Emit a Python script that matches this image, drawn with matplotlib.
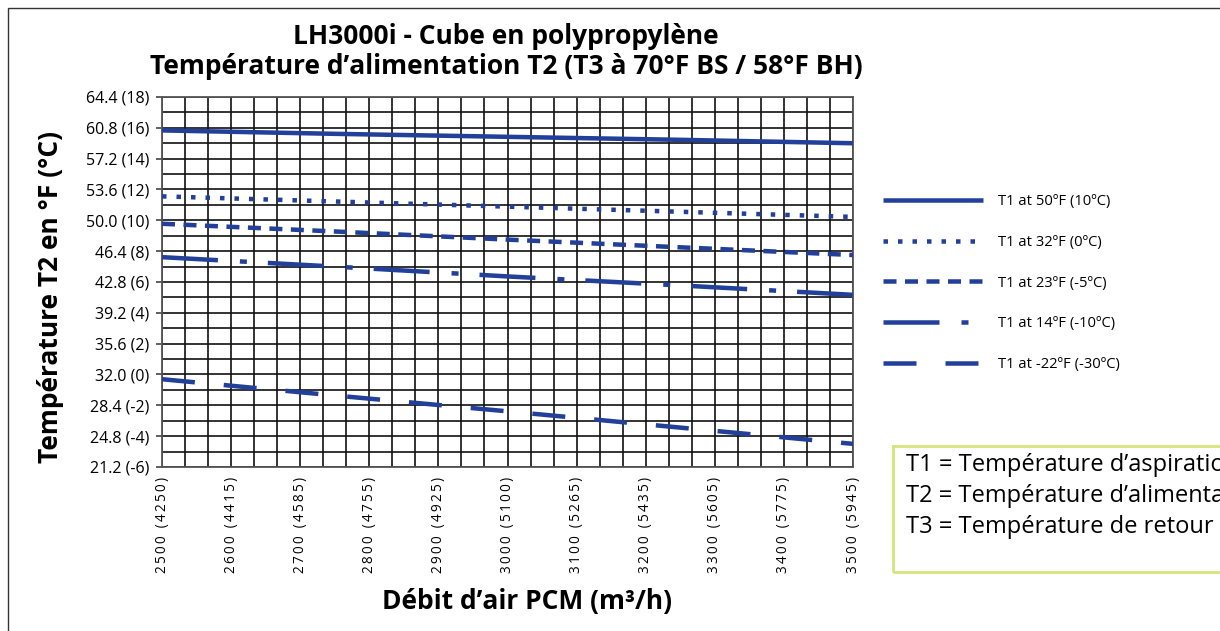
import matplotlib
matplotlib.use("Agg")
import matplotlib.pyplot as plt
from matplotlib.patches import Rectangle
import numpy as np

plt.rcParams['font.family'] = ['Open Sans', 'DejaVu Sans']

# ---- data ----
cfm = [2500, 2750, 3000, 3250, 3500]
t1_50F = [60.5, 60.1, 59.75, 59.4, 59.0]
t1_32F = [52.8, 52.2, 51.6, 51.0, 50.4]
t1_23F = [49.6, 48.7, 47.75, 46.85, 45.95]
t1_14F = [45.7, 44.6, 43.45, 42.4, 41.3]
t1_m22F = [31.45, 29.55, 27.7, 25.8, 23.9]
series_labels = ["T1 at 50ºF (10ºC)", "T1 at 32ºF (0ºC)", "T1 at 23ºF (-5ºC)",
                 "T1 at 14ºF (-10ºC)", "T1 at -22ºF (-30ºC)"]
x_ticks = [2500, 2600, 2700, 2800, 2900, 3000, 3100, 3200, 3300, 3400, 3500]
x_tick_labels = ["2500 (4250)", "2600 (4415)", "2700 (4585)", "2800 (4755)",
                 "2900 (4925)", "3000 (5100)", "3100 (5265)", "3200 (5435)",
                 "3300 (5605)", "3400 (5775)", "3500 (5945)"]
y_ticks = [21.2, 24.8, 28.4, 32.0, 35.6, 39.2, 42.8, 46.4, 50.0, 53.6, 57.2, 60.8, 64.4]
y_tick_labels = ["21.2 (-6)", "24.8 (-4)", "28.4 (-2)", "32.0 (0)", "35.6 (2)",
                 "39.2 (4)", "42.8 (6)", "46.4 (8)", "50.0 (10)", "53.6 (12)",
                 "57.2 (14)", "60.8 (16)", "64.4 (18)"]
info_lines = ["T1 = Température d’aspiration",
              "T2 = Température d’alimentation",
              "T3 = Température de retour d’air"]

W, H = 1220, 631
fig = plt.figure(figsize=(W / 100, H / 100), dpi=100)
ax = fig.add_axes([162 / W, 1 - 467 / H, (853 - 162) / W, (467 - 97) / H])

blue = "#22409A"
lw_px = 4.5
lw = lw_px * 0.72
def pat(*px):
    return (0, tuple(p / lw_px for p in px))

styles = [
    '-',
    pat(4.5, 10),
    pat(13, 8.5),
    pat(56, 22, 7, 21),
    pat(33, 29),
]
all_series = [t1_50F, t1_32F, t1_23F, t1_14F, t1_m22F]
handles = []
for ys, ls, lab in zip(all_series, styles, series_labels):
    h, = ax.plot(cfm, ys, color=blue, lw=lw, linestyle=ls, label=lab,
                 solid_capstyle='butt', dash_capstyle='butt', zorder=3)
    handles.append(h)

def tracked(s, sp="\u2009"):
    # letter-spaced tick text as in the reference
    return sp.join(list(s))

ax.set_xlim(2500, 3500)
ax.set_ylim(21.2, 64.4)
ax.set_xticks(x_ticks)
ax.set_xticklabels([tracked(t) for t in x_tick_labels], rotation=90, fontsize=9.8)
ax.set_yticks(y_ticks)
ax.set_yticklabels(y_tick_labels, fontsize=11.5)
ax.set_xticks(np.linspace(2500, 3500, 31), minor=True)
ax.set_yticks(np.linspace(21.2, 64.4, 25), minor=True)
ax.grid(True, which='both', color='#111111', lw=1.2, zorder=1)
ax.tick_params(axis='x', which='both', length=0, pad=7)
ax.tick_params(axis='y', which='major', length=4, width=1.2, color='#444444', pad=5)
ax.tick_params(axis='y', which='minor', length=0)
for s in ax.spines.values():
    s.set_color('#555555')
    s.set_linewidth(1.3)

ax.set_ylabel("Température T2 en °F (°C)", fontsize=19, fontweight='bold')
ax.yaxis.set_label_coords(-(162 - 64) / (853 - 162), (467 - 297) / 370)
fig.text(527 / W, 1 - 602 / H, "Débit d’air PCM (m³/h)", fontsize=19,
         fontweight='bold', ha='center', va='center')

fig.text(506 / W, 1 - 37 / H, "LH3000i - Cube en polypropylène", fontsize=19,
         fontweight='bold', ha='center', va='center')
fig.text(506 / W, 1 - 66 / H, "Température d’alimentation T2 (T3 à 70°F BS / 58°F BH)",
         fontsize=19, fontweight='bold', ha='center', va='center')

fig.legend(handles=handles, loc='upper left', bbox_to_anchor=(883 / W, 1 - 194 / H),
           frameon=False, fontsize=10.6, handlelength=6.8, handletextpad=1.0,
           labelspacing=1.75, borderpad=0, borderaxespad=0)

# info box (the reference crops it at the right edge of the picture)
fig.add_artist(Rectangle((893 / W, 1 - 572 / H), 0.4, (572 - 446) / H,
                         transform=fig.transFigure, fill=False,
                         edgecolor='#D5E57A', lw=2))
for i, t in enumerate(info_lines):
    fig.text(906 / W, 1 - (465 + 31 * i) / H, t, fontsize=17, ha='left', va='center')

# outer frame
fig.add_artist(Rectangle((8 / W, -0.1), 1.2, 1.1 - 8 / H,
                         transform=fig.transFigure, fill=False,
                         edgecolor='#333333', lw=1))

fig.savefig("out.png", dpi=100)
